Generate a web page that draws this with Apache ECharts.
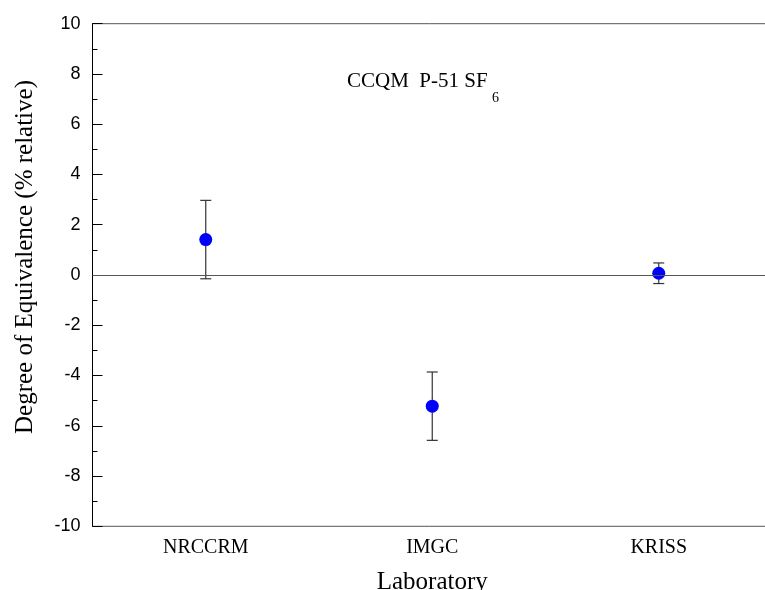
<!DOCTYPE html>
<html>
<head>
<meta charset="utf-8">
<script src="https://cdn.jsdelivr.net/npm/echarts@6/dist/echarts.min.js"></script>
<style>
  html, body { margin: 0; padding: 0; background: #fff; }
  #chart { width: 765px; height: 590px; }
</style>
</head>
<body>
<div id="chart"></div>
<script>
// values
const labs = ['NRCCRM', 'IMGC', 'KRISS'];
const doe = [1.41, -5.22, 0.07];       // degree of equivalence, % relative
const unc = [1.56, 1.36, 0.41];        // expanded uncertainty (half-length of bar)
const yTicks = [-10, 10, 2];           // min, max, step

const myChart = echarts.init(document.getElementById('chart'));

const serif = 'Liberation Serif, Times New Roman, serif';
const sans = 'Liberation Sans, Arial, sans-serif';

const errData = labs.map((l, i) => [i, doe[i] - unc[i], doe[i] + unc[i]]);

const option = {
    animation: false,
    backgroundColor: '#fff',
    grid: {
        left: 92.5,
        right: -7,
        top: 23.7,
        bottom: 63.7,
        containLabel: false,
        outerBoundsMode: 'none',
        show: true,
        borderColor: '#555',
        borderWidth: 1,
        backgroundColor: 'transparent'
    },
    xAxis: [
        {
            type: 'category',
            data: labs,
            boundaryGap: true,
            name: 'Laboratory',
            nameLocation: 'middle',
            nameGap: 44,
            nameTextStyle: { fontFamily: serif, fontSize: 25, color: '#000' },
            axisLine: { lineStyle: { color: '#000', width: 1 } },
            axisTick: { inside: true, length: 10, alignWithLabel: true, lineStyle: { color: '#000' } },
            axisLabel: { fontFamily: serif, fontSize: 20, color: '#000', margin: 11 },
            splitLine: { show: false }
        },
        {
            // half-way ticks between laboratories
            type: 'category',
            data: labs,
            position: 'bottom',
            boundaryGap: true,
            axisLine: { show: false },
            axisTick: { inside: true, length: 5, lineStyle: { color: '#000' } },
            axisLabel: { show: false },
            splitLine: { show: false }
        }
    ],
    yAxis: {
        type: 'value',
        min: yTicks[0],
        max: yTicks[1],
        interval: yTicks[2],
        axisLine: { show: true, lineStyle: { color: '#000', width: 1 } },
        axisTick: { show: true, inside: true, length: 10, lineStyle: { color: '#000' } },
        minorTick: { show: true, splitNumber: 2, length: 5, lineStyle: { color: '#000' } },
        axisLabel: { fontFamily: sans, fontSize: 18, color: '#000', margin: 12 },
        splitLine: { show: false }
    },
    graphic: [
        {
            type: 'text',
            x: 25,
            y: 257,
            rotation: Math.PI / 2,
            style: {
                text: 'Degree of Equivalence (% relative)',
                font: '25px ' + serif,
                fill: '#000',
                textAlign: 'center',
                textVerticalAlign: 'middle'
            }
        },
        {
            type: 'text',
            x: 347,
            y: 81,
            style: {
                text: 'CCQM  P-51 SF',
                font: '21px ' + serif,
                fill: '#000',
                textAlign: 'left',
                textVerticalAlign: 'middle'
            }
        },
        {
            type: 'text',
            x: 492,
            y: 98.5,
            style: {
                text: '6',
                font: '14px ' + serif,
                fill: '#000',
                textAlign: 'left',
                textVerticalAlign: 'middle'
            }
        }
    ],
    series: [
        {
            type: 'custom',
            xAxisIndex: 0,
            z: 2,
            renderItem: function (params, api) {
                const lo = api.coord([api.value(0), api.value(1)]);
                const hi = api.coord([api.value(0), api.value(2)]);
                const w = 5.5;
                const st = { stroke: '#333', lineWidth: 1.2 };
                return {
                    type: 'group',
                    children: [
                        { type: 'line', shape: { x1: lo[0], y1: lo[1], x2: hi[0], y2: hi[1] }, style: st },
                        { type: 'line', shape: { x1: lo[0] - w, y1: lo[1], x2: lo[0] + w, y2: lo[1] }, style: st },
                        { type: 'line', shape: { x1: hi[0] - w, y1: hi[1], x2: hi[0] + w, y2: hi[1] }, style: st }
                    ]
                };
            },
            encode: { x: 0, y: [1, 2] },
            data: errData
        },
        {
            type: 'scatter',
            xAxisIndex: 0,
            z: 3,
            symbol: 'circle',
            symbolSize: 13,
            itemStyle: { color: '#0000ff', opacity: 1 },
            data: doe,
            markLine: {
                silent: true,
                symbol: 'none',
                label: { show: false },
                lineStyle: { color: '#555', type: 'solid', width: 1 },
                data: [{ yAxis: 0 }]
            }
        }
    ]
};

myChart.setOption(option);
</script>
</body>
</html>
